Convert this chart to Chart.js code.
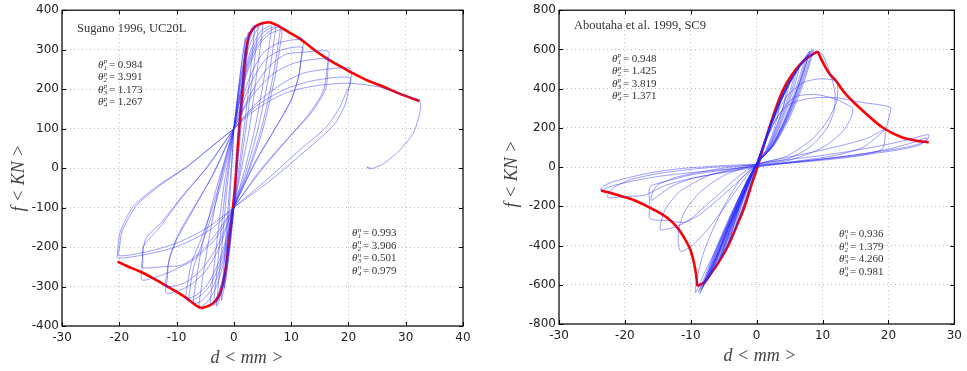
<!DOCTYPE html>
<html lang="en">
<head>
<meta charset="UTF-8" />
<title>Hysteresis loops</title>
<style>
  body { margin: 0; background: #fff; width: 967px; height: 371px; overflow: hidden; position: relative; }
  .panel { position: absolute; top: 0; width: 480px; height: 371px; }
  #leftPanel { left: 0; }
  #rightPanel { left: 487px; }
</style>
</head>
<body>
<div class="panel" id="leftPanel"><canvas id="sugano" width="480" height="371"></canvas></div>
<div class="panel" id="rightPanel"><canvas id="aboutaha" width="480" height="371"></canvas></div>

<script src="https://cdn.jsdelivr.net/npm/chart.js"></script>
<script>
// ---- Sugano 1996, UC20L : [d (mm), f (kN)] ----
const sugEnvLeft = [[-20.3,-237],[-18.4,-250],[-16.4,-262],[-14,-280],[-11.7,-299],[-9.8,-315],[-8.2,-330],[-6.9,-345],[-5.8,-355]];
const sugEnvMid = [[-5.8,-355],[-4.2,-348],[-3.3,-338],[-2.4,-317],[-1.55,-267],[-0.7,-165],[0.2,-47],[0.77,71],[1.37,172],[1.94,273],[2.5,328],[3.1,348],[3.7,358],[4.56,365],[6.2,370]];
const sugEnvRight = [[6.2,370],[7.5,362],[9.5,345],[11.5,328],[14,300],[16.2,278],[18.3,260],[20.3,244],[23,224],[26.1,206],[29,188],[32.4,170]];

const sugLoopA = [[0,100],[0.8,200],[1.6,290],[2.2,330],[2.6,345],[2.5,320],[1.9,220],[1.1,80],[0.4,-30],[0,-100],[-0.7,-200],[-1.4,-280],[-2,-325],[-2.2,-335],[-2,-300],[-1.5,-200],[-0.8,-60],[-0.3,30],[0,100]];
const sugLoopA2 = [[0,100],[0.7,190],[1.4,270],[2,330],[1.9,300],[1.3,190],[0.6,50],[0,-100],[-0.6,-190],[-1.2,-260],[-1.7,-305],[-1.6,-280],[-1.1,-170],[-0.5,-30],[0,100]];
const sugLoopB = [[0,100],[1,210],[2,295],[2.9,345],[3.6,362],[3.5,335],[2.8,230],[1.7,90],[0.7,-20],[0,-100],[-1,-220],[-2,-305],[-2.7,-340],[-3,-350],[-2.8,-310],[-2.1,-200],[-1.2,-50],[-0.5,40],[0,100]];
const sugLoopB2 = [[0,100],[1.1,215],[2.2,300],[3.3,348],[4.2,364],[4.1,338],[3.3,235],[2,90],[0.9,-20],[0,-100],[-1.1,-225],[-2.2,-310],[-3,-340],[-3.5,-348],[-3.3,-310],[-2.5,-195],[-1.4,-45],[-0.6,40],[0,100]];
const sugLoopC = [[0,100],[1.2,215],[2.5,300],[3.8,345],[5,366],[4.9,340],[4,240],[2.7,100],[1.2,-10],[0,-100],[-1.2,-230],[-2.5,-310],[-3.4,-338],[-4.1,-346],[-3.9,-310],[-3,-190],[-1.7,-40],[-0.7,40],[0,100]];
const sugLoopD = [[0,100],[1.5,220],[3,300],[4.6,345],[6.5,361],[6.4,335],[5.4,240],[3.8,110],[1.8,-10],[0,-100],[-1.6,-230],[-3.2,-305],[-4.7,-340],[-6,-351],[-5.8,-315],[-4.6,-200],[-2.8,-60],[-1.2,40],[0,100]];
const sugLoopD2 = [[0,100],[1.6,222],[3.3,300],[5,342],[7.2,358],[7.1,332],[6.1,235],[4.3,105],[2.1,-10],[0,-100],[-1.8,-228],[-3.7,-302],[-5.5,-335],[-7,-343],[-6.8,-308],[-5.6,-200],[-3.4,-70],[-1.4,30],[0,100]];
const sugLoopE = [[0,100],[1.8,225],[3.6,300],[5.6,340],[8,358],[7.9,330],[6.8,230],[4.8,100],[2.4,-10],[0,-100],[-2,-225],[-4.2,-298],[-6.2,-327],[-7.8,-336],[-7.6,-300],[-7,-250],[-5.3,-182],[-3,-81],[-1.2,20],[0,100]];
const sugLoopE2 = [[0,100],[2,228],[4,302],[6,338],[8.3,350],[8.2,322],[7.1,225],[5,95],[2.5,-12],[0,-100],[-2.2,-222],[-4.6,-295],[-6.6,-322],[-8.3,-330],[-8.1,-295],[-7.4,-240],[-5.6,-175],[-3.2,-75],[-1.3,25],[0,100]];
const sugLoopF = [[0,100],[2.5,220],[5,290],[8,318],[12.1,325],[11.9,300],[11.4,240],[10.2,180],[7.6,110],[3.8,15],[0,-100],[-2.5,-200],[-5,-262],[-8,-300],[-11.8,-317],[-11.6,-280],[-11.4,-240],[-10,-182],[-7.1,-106],[-3.6,-14],[0,100]];
const sugLoopF2 = [[0,100],[2.8,210],[5.5,275],[8.5,300],[12,306],[11.8,280],[11.2,225],[9.8,165],[7.2,100],[3.5,10],[0,-100],[-2.8,-195],[-5.5,-255],[-8.5,-290],[-11.9,-300],[-11.7,-270],[-11.2,-225],[-9.6,-165],[-6.8,-95],[-3.3,-8],[0,100]];
const sugLoopG = [[0,100],[3,190],[6,255],[9,288],[12.5,294],[16.5,296],[16.5,272],[16,200],[13.5,140],[9.8,80],[5,-2],[0,-100],[-3,-175],[-7,-232],[-11,-262],[-14,-278],[-16.1,-283],[-15.9,-240],[-15.8,-199],[-12.9,-149],[-9.4,-81],[-4.75,2],[0,100]];
const sugLoopG2 = [[0,100],[3,180],[7,240],[11,268],[16.3,277],[16.3,258],[15.6,195],[13,135],[9.4,75],[4.6,-5],[0,-100],[-3,-165],[-6,-215],[-9,-245],[-12.5,-250],[-16,-252],[-16,-235],[-15.4,-180],[-12.5,-135],[-9,-70],[-4.5,5],[0,100]];
const sugLoopH = [[0,100],[4,165],[8,210],[12,240],[16,250],[20.3,252],[20.3,210],[19.7,195],[18.5,155],[16.2,105],[11.5,46],[5.7,-30],[0,-100],[-4.2,-157],[-10,-199],[-15.8,-220],[-20.3,-228],[-20.3,-216],[-19.9,-165],[-17.6,-98],[-13.5,-47],[-8.2,4],[-3.8,55],[0,100]];
const sugLoopH2 = [[0,100],[4,158],[9,200],[14,222],[20.2,230],[20.1,205],[19.4,160],[17.5,110],[13,50],[6.5,-30],[0,-100],[-4.5,-150],[-10,-190],[-15.5,-213],[-20.1,-222],[-20,-205],[-19.5,-160],[-17,-95],[-13,-45],[-8,5],[-3.6,58],[0,100]];
const sugLoopLast = [[0,100],[4,150],[9,190],[14,208],[20,215],[25.5,205],[29,188],[32.4,170],[32.6,154],[32.2,125],[31.3,88],[29,46],[26.1,11],[24.1,-1],[23.2,3],[23.8,-4]];

// ---- Aboutaha et al. 1999, SC9 ----
const aboEnvLeft = [[-23.6,-119],[-20.9,-145],[-18.5,-170],[-16.9,-195],[-15.4,-221],[-13.4,-263],[-12.4,-295],[-11.5,-333],[-10.7,-378],[-10.0,-428],[-9.5,-490],[-9.2,-548],[-9.0,-607]];
const aboEnvMid = [[-9.0,-607],[-7.9,-585],[-6.9,-540],[-5.9,-492],[-4.4,-405],[-3.1,-305],[-1.87,-205],[-0.9,-102],[0.12,1],[1.1,112],[2.1,219],[3.1,318],[4.1,400],[5.3,468],[6.6,524],[7.9,563],[9.25,590]];
const aboEnvRight = [[9.25,590],[10.1,530],[11.1,473],[12.05,439],[13.1,389],[16.1,287],[19.1,202],[22.1,151],[24,136],[26.1,126]];

const aboBand1 = [[0,15],[1,110],[2,200],[3.2,300],[4.5,400],[4,300],[3,200],[1.8,100],[0,15],[-1.4,-100],[-2.7,-210],[-3.6,-310],[-4.2,-390],[-3.2,-310],[-2.1,-210],[-1,-100],[0,15]];
const aboBand2 = [[0,15],[1.1,120],[2.3,230],[3.6,340],[4.7,415],[5.6,460],[5,380],[4,280],[2.8,170],[1.5,80],[0,15],[-1.5,-100],[-2.9,-220],[-4.1,-340],[-5.3,-455],[-4.5,-380],[-3.3,-270],[-2,-150],[-0.8,-50],[0,15]];
const aboBand3 = [[0,15],[1.2,130],[2.5,250],[3.9,360],[5.2,445],[6.4,505],[5.8,420],[4.7,310],[3.3,190],[1.7,85],[0,15],[-1.6,-110],[-3.1,-235],[-4.6,-370],[-6.1,-505],[-5.2,-420],[-3.9,-300],[-2.4,-170],[-1,-55],[0,15]];
const aboBand4 = [[0,15],[1.3,140],[2.7,265],[4.2,380],[5.7,475],[7.1,540],[6.5,460],[5.3,340],[3.8,210],[2,95],[0,15],[-1.7,-115],[-3.4,-250],[-5.1,-400],[-6.9,-550],[-5.9,-460],[-4.5,-330],[-2.8,-185],[-1.2,-60],[0,15]];
const aboBand5 = [[0,15],[1.4,150],[2.9,280],[4.5,400],[6.1,495],[7.7,565],[7,480],[5.8,360],[4.2,225],[2.2,100],[0,15],[-1.8,-120],[-3.6,-260],[-5.5,-420],[-7.5,-580],[-6.5,-490],[-5,-355],[-3.1,-200],[-1.3,-65],[0,15]];
const aboBand6 = [[0,15],[1.5,155],[3.1,290],[4.8,415],[6.5,510],[8.2,585],[7.5,500],[6.2,375],[4.5,235],[2.4,105],[0,15],[-1.9,-125],[-3.9,-275],[-5.9,-440],[-8.1,-610],[-7.1,-520],[-5.5,-380],[-3.4,-215],[-1.4,-70],[0,15]];
const aboBand7 = [[0,15],[1.5,150],[3,290],[4.6,410],[6.4,510],[8.6,600],[8,520],[6.7,390],[4.9,245],[2.6,110],[0,15],[-2,-130],[-4.1,-290],[-6.2,-460],[-8.6,-645],[-7.6,-550],[-5.9,-400],[-3.7,-230],[-1.5,-75],[0,15]];
const aboBand8 = [[0,10],[1.6,160],[3.3,305],[5,425],[6.6,515],[8,590],[7.3,505],[6,385],[4.4,250],[2.4,115],[0,10],[-1.8,-115],[-3.8,-270],[-6,-450],[-8.4,-625],[-7.3,-530],[-5.6,-385],[-3.5,-220],[-1.4,-65],[0,10]];
const aboBand9 = [[0,15],[0.9,100],[1.8,190],[2.7,270],[3.5,330],[3.1,250],[2.3,160],[1.3,80],[0,15],[-1.1,-80],[-2.1,-170],[-2.8,-250],[-3.3,-320],[-2.6,-250],[-1.7,-160],[-0.8,-70],[0,15]];
const aboBand10 = [[0,20],[1.2,135],[2.4,245],[3.7,350],[4.9,430],[6,485],[5.4,400],[4.3,290],[3,175],[1.6,80],[0,20],[-1.5,-105],[-3,-230],[-4.4,-360],[-5.7,-480],[-4.9,-400],[-3.7,-285],[-2.3,-160],[-1,-55],[0,20]];
const aboBand11 = [[0,12],[1.4,148],[2.8,275],[4.4,395],[5.9,485],[7.4,555],[6.8,470],[5.6,350],[4,215],[2.1,95],[0,12],[-1.8,-118],[-3.5,-255],[-5.3,-410],[-7.2,-565],[-6.2,-475],[-4.8,-345],[-3,-195],[-1.3,-62],[0,12]];
const aboBand12 = [[0,18],[1.5,152],[3,288],[4.7,412],[6.5,512],[8.4,595],[7.8,515],[6.5,388],[4.7,245],[2.5,108],[0,18],[-2,-128],[-4.1,-285],[-6.3,-460],[-8.8,-635],[-7.7,-545],[-6,-400],[-3.8,-232],[-1.6,-78],[0,18]];
const aboBand13 = [[0,10],[1.1,125],[2.2,235],[3.5,345],[5,440],[4.5,360],[3.5,255],[2.2,140],[1,60],[0,10],[-1.4,-100],[-2.7,-215],[-3.8,-330],[-4.8,-430],[-4,-355],[-2.9,-250],[-1.7,-140],[-0.7,-45],[0,10]];
const aboBand14 = [[0,22],[1.3,140],[2.7,270],[4.3,395],[6,495],[7.8,575],[7.2,490],[6,370],[4.4,235],[2.3,105],[0,22],[-1.9,-120],[-3.8,-270],[-5.7,-430],[-7.8,-595],[-6.8,-505],[-5.3,-370],[-3.3,-210],[-1.4,-65],[0,22]];

const aboLoop1 = [[0,15],[4,35],[9,55],[14,80],[19,110],[23,140],[26.1,166],[25.9,140],[24.5,110],[21,85],[15,58],[8,32],[0,5],[-5,-12],[-10,-28],[-15,-48],[-19,-72],[-22,-97],[-23.7,-118],[-23.4,-100],[-22,-77],[-17,-35],[-12,-9],[-4.9,8],[0,15]];
const aboLoop2 = [[0,10],[5,25],[10,42],[15,62],[20,92],[24,128],[25.8,150],[25.5,128],[22.5,100],[17,72],[11,45],[5,22],[0,0],[-5,-28],[-10,-58],[-14,-95],[-17,-143],[-20,-150],[-22.6,-155],[-22.4,-130],[-21.5,-100],[-19,-62],[-14,-28],[-7,-2],[0,10]];
const aboLoop3 = [[0,15],[1.5,140],[3,250],[5,320],[8,350],[11.6,355],[16,330],[20.3,304],[20.1,260],[19.6,200],[18.1,151],[16.1,100],[12,60],[6,30],[0,5],[-5,-15],[-10,-40],[-14,-75],[-16.2,-102],[-16.2,-200],[-16.2,-263],[-13.5,-272],[-10.8,-280],[-8,-205],[-5,-115],[-2.5,-40],[0,15]];
const aboLoop4 = [[0,15],[4,45],[9,80],[14,120],[17,150],[19.4,190],[19.4,130],[19,90],[16,60],[10,35],[0,5],[-5,-25],[-10,-60],[-13,-100],[-16,-170],[-15.8,-130],[-15,-90],[-12,-50],[-6,-10],[0,15]];
const aboLoop5 = [[0,15],[1.5,150],[3,270],[4.8,370],[7,430],[9.5,450],[12,440],[12.3,400],[12.1,330],[10.8,240],[8.5,145],[4.5,55],[0,10],[-2.5,-90],[-5,-210],[-7.5,-320],[-9.8,-400],[-11.5,-430],[-11.9,-390],[-11.8,-310],[-10.8,-220],[-8.5,-125],[-4.8,-40],[0,15]];
const aboLoop6 = [[0,15],[1.5,150],[3,285],[4.7,410],[6.5,510],[8.3,570],[9.7,585],[10.6,530],[11.4,450],[11.9,370],[11.7,280],[10.5,190],[8,100],[4.5,40],[0,10],[-2,-120],[-4,-270],[-6,-410],[-7.8,-530],[-9.3,-640],[-9,-560],[-8.2,-450],[-6.8,-330],[-4.8,-190],[-2.4,-60],[0,15]];
const aboLoop7 = [[0,15],[2,180],[4,300],[6,360],[9,370],[12,345],[14.5,300],[14.3,250],[13,180],[10,100],[5,35],[0,5],[-3,-80],[-6,-170],[-9,-250],[-12,-300],[-14.6,-320],[-14.5,-280],[-13.8,-210],[-11.5,-120],[-7,-40],[0,15]];

// parameter labels shown in each panel
const sugParamsP = ['0.984', '3.991', '1.173', '1.267'];
const sugParamsN = ['0.993', '3.906', '0.501', '0.979'];
const aboParamsP = ['0.948', '1.425', '3.819', '1.371'];
const aboParamsN = ['0.936', '1.379', '4.260', '0.981'];

const BLUE = 'rgba(40, 40, 255, 0.5)';
const RED = '#ff0000';

function toPts(arr) {
  return arr.map(p => ({ x: p[0], y: p[1] }));
}

function lineSet(arr, color, width, tension) {
  return {
    data: toPts(arr),
    showLine: true,
    pointRadius: 0,
    borderColor: color,
    borderWidth: width,
    tension: tension,
    fill: false
  };
}

// red envelope: smooth monotone curve (x grows along each piece)
function envSet(arr) {
  const s = lineSet(arr, RED, 2.6, 0);
  s.cubicInterpolationMode = 'monotone';
  return s;
}

function drawParam(ctx, x, y, sup, sub, val) {
  ctx.font = 'italic 11px "Liberation Serif"';
  ctx.fillText('\u03B8', x, y);
  const w = ctx.measureText('\u03B8').width;
  ctx.font = 'italic 7px "Liberation Serif"';
  ctx.fillText(sup, x + w + 0.3, y - 3.5);
  ctx.fillText(sub, x + w + 0.3, y + 3);
  ctx.font = '11px "Liberation Serif"';
  ctx.fillText('= ' + val, x + w + 5.5, y);
}

// frame, inward ticks, labels and annotations drawn on top of the plot
function makeDecor(cfg) {
  return {
    id: 'decor',
    afterDatasetsDraw(chart) {
      const ctx = chart.ctx;
      const a = chart.chartArea;
      const xs = chart.scales.x, ys = chart.scales.y;
      ctx.save();
      ctx.strokeStyle = '#000';
      ctx.lineWidth = 1.2;
      ctx.strokeRect(a.left, a.top, a.right - a.left, a.bottom - a.top);
      ctx.lineWidth = 1;
      xs.ticks.forEach(t => {
        const px = Math.round(xs.getPixelForValue(t.value)) + 0.5;
        ctx.beginPath();
        ctx.moveTo(px, a.bottom); ctx.lineTo(px, a.bottom - 4);
        ctx.moveTo(px, a.top); ctx.lineTo(px, a.top + 4);
        ctx.stroke();
      });
      ys.ticks.forEach(t => {
        const py = Math.round(ys.getPixelForValue(t.value)) + 0.5;
        ctx.beginPath();
        ctx.moveTo(a.left, py); ctx.lineTo(a.left + 4, py);
        ctx.moveTo(a.right, py); ctx.lineTo(a.right - 4, py);
        ctx.stroke();
      });

      ctx.fillStyle = '#333';
      ctx.textBaseline = 'middle';
      ctx.textAlign = 'left';
      ctx.font = '12.5px "Liberation Serif"';
      ctx.fillText(cfg.title, cfg.titleX, cfg.titleY);

      cfg.paramsP.forEach((v, i) => drawParam(ctx, cfg.pX, cfg.pY + i * 12.5, 'p', String(i + 1), v));
      cfg.paramsN.forEach((v, i) => drawParam(ctx, cfg.nX, cfg.nY + i * 12.5, 'n', String(i + 1), v));

      ctx.fillStyle = '#444';
      ctx.font = 'italic 18px "Liberation Serif"';
      ctx.textAlign = 'center';
      ctx.fillText('d < mm >', cfg.xTitleX, cfg.xTitleY);
      ctx.translate(cfg.yTitleX, cfg.yTitleY);
      ctx.rotate(-Math.PI / 2);
      ctx.fillText('f < KN >', 0, 0);
      ctx.restore();
    }
  };
}

function makeChart(canvasId, datasets, xr, yr, pad, axisW, axisH, cfg) {
  const tickFont = { family: 'DejaVu Sans', size: 12 };
  return new Chart(document.getElementById(canvasId), {
    type: 'scatter',
    data: { datasets: datasets },
    options: {
      responsive: false,
      animation: false,
      layout: { padding: pad },
      plugins: { legend: { display: false }, tooltip: { enabled: false } },
      scales: {
        x: {
          type: 'linear', min: xr[0], max: xr[1],
          ticks: { stepSize: xr[2], color: '#222', font: tickFont, padding: 5, maxRotation: 0 },
          grid: { color: '#aaa', lineWidth: 0.8, drawTicks: false },
          border: { display: false, dash: [1, 3] },
          afterFit: s => { s.height = axisH; }
        },
        y: {
          type: 'linear', min: yr[0], max: yr[1],
          ticks: { stepSize: yr[2], color: '#222', font: tickFont, padding: 3 },
          grid: { color: '#aaa', lineWidth: 0.8, drawTicks: false },
          border: { display: false, dash: [1, 3] },
          afterFit: s => { s.width = axisW; }
        }
      }
    },
    plugins: [makeDecor(cfg)]
  });
}

const sugBlue = [sugLoopA, sugLoopA2, sugLoopB, sugLoopB2, sugLoopC, sugLoopD, sugLoopD2, sugLoopE, sugLoopE2,
  sugLoopF, sugLoopF2, sugLoopG, sugLoopG2, sugLoopH, sugLoopH2, sugLoopLast];
const sugSets = sugBlue.map(l => lineSet(l, BLUE, 0.9, 0.25))
  .concat([sugEnvLeft, sugEnvMid, sugEnvRight].map(envSet));

makeChart('sugano', sugSets, [-30, 40, 10], [-400, 400, 100],
  { top: 10, right: 17, left: 0, bottom: 0 }, 62, 45,
  { title: 'Sugano 1996, UC20L', titleX: 77, titleY: 29,
    paramsP: sugParamsP, pX: 98, pY: 65,
    paramsN: sugParamsN, nX: 352, nY: 233.5,
    xTitleX: 247, xTitleY: 358, yTitleX: 19, yTitleY: 178 });

const aboBlue = [aboBand1, aboBand2, aboBand3, aboBand4, aboBand5, aboBand6, aboBand7, aboBand8,
  aboBand9, aboBand10, aboBand11, aboBand12, aboBand13, aboBand14,
  aboLoop1, aboLoop2, aboLoop3, aboLoop4, aboLoop5, aboLoop6, aboLoop7];
const aboSets = aboBlue.map(l => lineSet(l, BLUE, 0.9, 0.25))
  .concat([aboEnvLeft, aboEnvMid, aboEnvRight].map(envSet));

makeChart('aboutaha', aboSets, [-30, 30, 10], [-800, 800, 200],
  { top: 9, right: 7, left: 0, bottom: 0 }, 72, 47,
  { title: 'Aboutaha et al. 1999, SC9', titleX: 87, titleY: 26,
    paramsP: aboParamsP, pX: 125, pY: 59,
    paramsN: aboParamsN, nX: 352, nY: 234.5,
    xTitleX: 273, xTitleY: 356, yTitleX: 25, yTitleY: 174 });
</script>
</body>
</html>
